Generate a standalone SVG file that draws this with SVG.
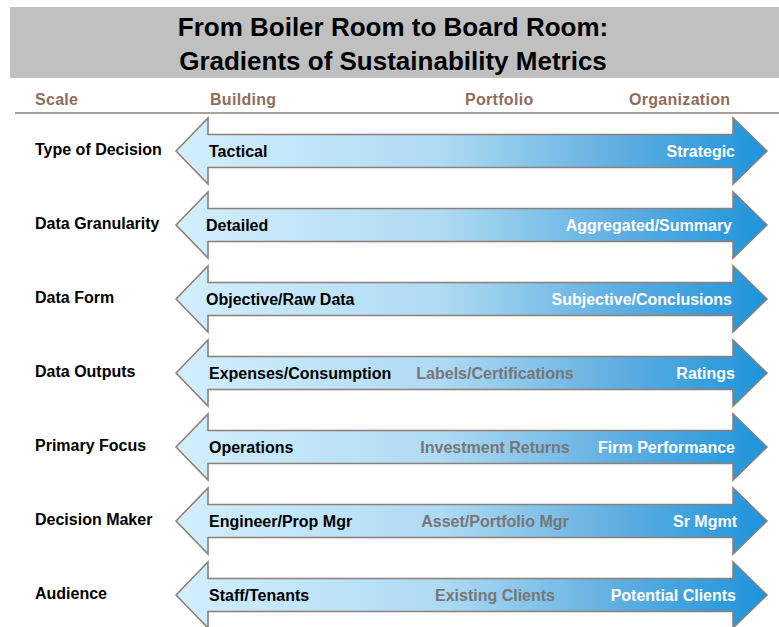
<svg xmlns="http://www.w3.org/2000/svg" xmlns:xlink="http://www.w3.org/1999/xlink" width="779" height="627" viewBox="0 0 779 627">
<defs>
<linearGradient id="blue" x1="0" y1="0" x2="1" y2="0">
<stop offset="0" stop-color="#D2EFFD"/>
<stop offset="0.45" stop-color="#AEDAF3"/>
<stop offset="0.75" stop-color="#5FAEE2"/>
<stop offset="1" stop-color="#1C94DA"/>
</linearGradient>
<path id="arrow" d="M176,0 L208,-33 L208,-16.5 L733,-16.5 L733,-33 L767,0 L733,33 L733,16.5 L208,16.5 L208,33 Z"/>
</defs>
<style>
.t{font-family:"Liberation Sans",Arial,sans-serif;font-weight:bold}
.title{font-size:26px;fill:#000;text-anchor:middle}
.hd{font-size:16px;fill:#8E6D5C;letter-spacing:0.3px}
.lab{font-size:16px;fill:#000}
.l{font-size:16px;fill:#000}
.m{font-size:16px;fill:#767676;text-anchor:middle}
.r{font-size:16px;fill:#fff;text-anchor:end}
.arr{fill:url(#blue);stroke:#8C8079;stroke-width:1.6;stroke-linejoin:miter}
</style>
<rect width="779" height="627" fill="#fff"/>
<g id="header">
<rect x="10" y="7" width="769" height="71" fill="#C0C0C0"/>
<text class="t title" x="393" y="36">From Boiler Room to Board Room:</text>
<text class="t title" x="393" y="70">Gradients of Sustainability Metrics</text>
<text class="t hd" x="35" y="105">Scale</text>
<text class="t hd" x="210" y="105">Building</text>
<text class="t hd" x="465" y="105">Portfolio</text>
<text class="t hd" x="629" y="105">Organization</text>
<line x1="15" y1="113" x2="779" y2="113" stroke="#8C8079" stroke-width="1.5"/>
</g>
<g id="row-type-of-decision">
<use xlink:href="#arrow" class="arr" transform="translate(0,151)"/>
<text class="t lab" x="35" y="155">Type of Decision</text>
<text class="t l" x="209" y="157">Tactical</text>
<text class="t r" x="735" y="157">Strategic</text>
</g>
<g id="row-data-granularity">
<use xlink:href="#arrow" class="arr" transform="translate(0,225)"/>
<text class="t lab" x="35" y="229">Data Granularity</text>
<text class="t l" x="206" y="231">Detailed</text>
<text class="t r" x="732" y="231">Aggregated/Summary</text>
</g>
<g id="row-data-form">
<use xlink:href="#arrow" class="arr" transform="translate(0,299)"/>
<text class="t lab" x="35" y="303">Data Form</text>
<text class="t l" x="206" y="305">Objective/Raw Data</text>
<text class="t r" x="732" y="305">Subjective/Conclusions</text>
</g>
<g id="row-data-outputs">
<use xlink:href="#arrow" class="arr" transform="translate(0,373)"/>
<text class="t lab" x="35" y="377">Data Outputs</text>
<text class="t l" x="209" y="379">Expenses/Consumption</text>
<text class="t m" x="495" y="379">Labels/Certifications</text>
<text class="t r" x="735" y="379">Ratings</text>
</g>
<g id="row-primary-focus">
<use xlink:href="#arrow" class="arr" transform="translate(0,447)"/>
<text class="t lab" x="35" y="451">Primary Focus</text>
<text class="t l" x="209" y="453">Operations</text>
<text class="t m" x="495" y="453">Investment Returns</text>
<text class="t r" x="735" y="453">Firm Performance</text>
</g>
<g id="row-decision-maker">
<use xlink:href="#arrow" class="arr" transform="translate(0,521)"/>
<text class="t lab" x="35" y="525">Decision Maker</text>
<text class="t l" x="209" y="527">Engineer/Prop Mgr</text>
<text class="t m" x="495" y="527">Asset/Portfolio Mgr</text>
<text class="t r" x="737" y="527">Sr Mgmt</text>
</g>
<g id="row-audience">
<use xlink:href="#arrow" class="arr" transform="translate(0,595)"/>
<text class="t lab" x="35" y="599">Audience</text>
<text class="t l" x="209" y="601">Staff/Tenants</text>
<text class="t m" x="495" y="601">Existing Clients</text>
<text class="t r" x="736" y="601">Potential Clients</text>
</g>
<g id="connectors"/>
</svg>
